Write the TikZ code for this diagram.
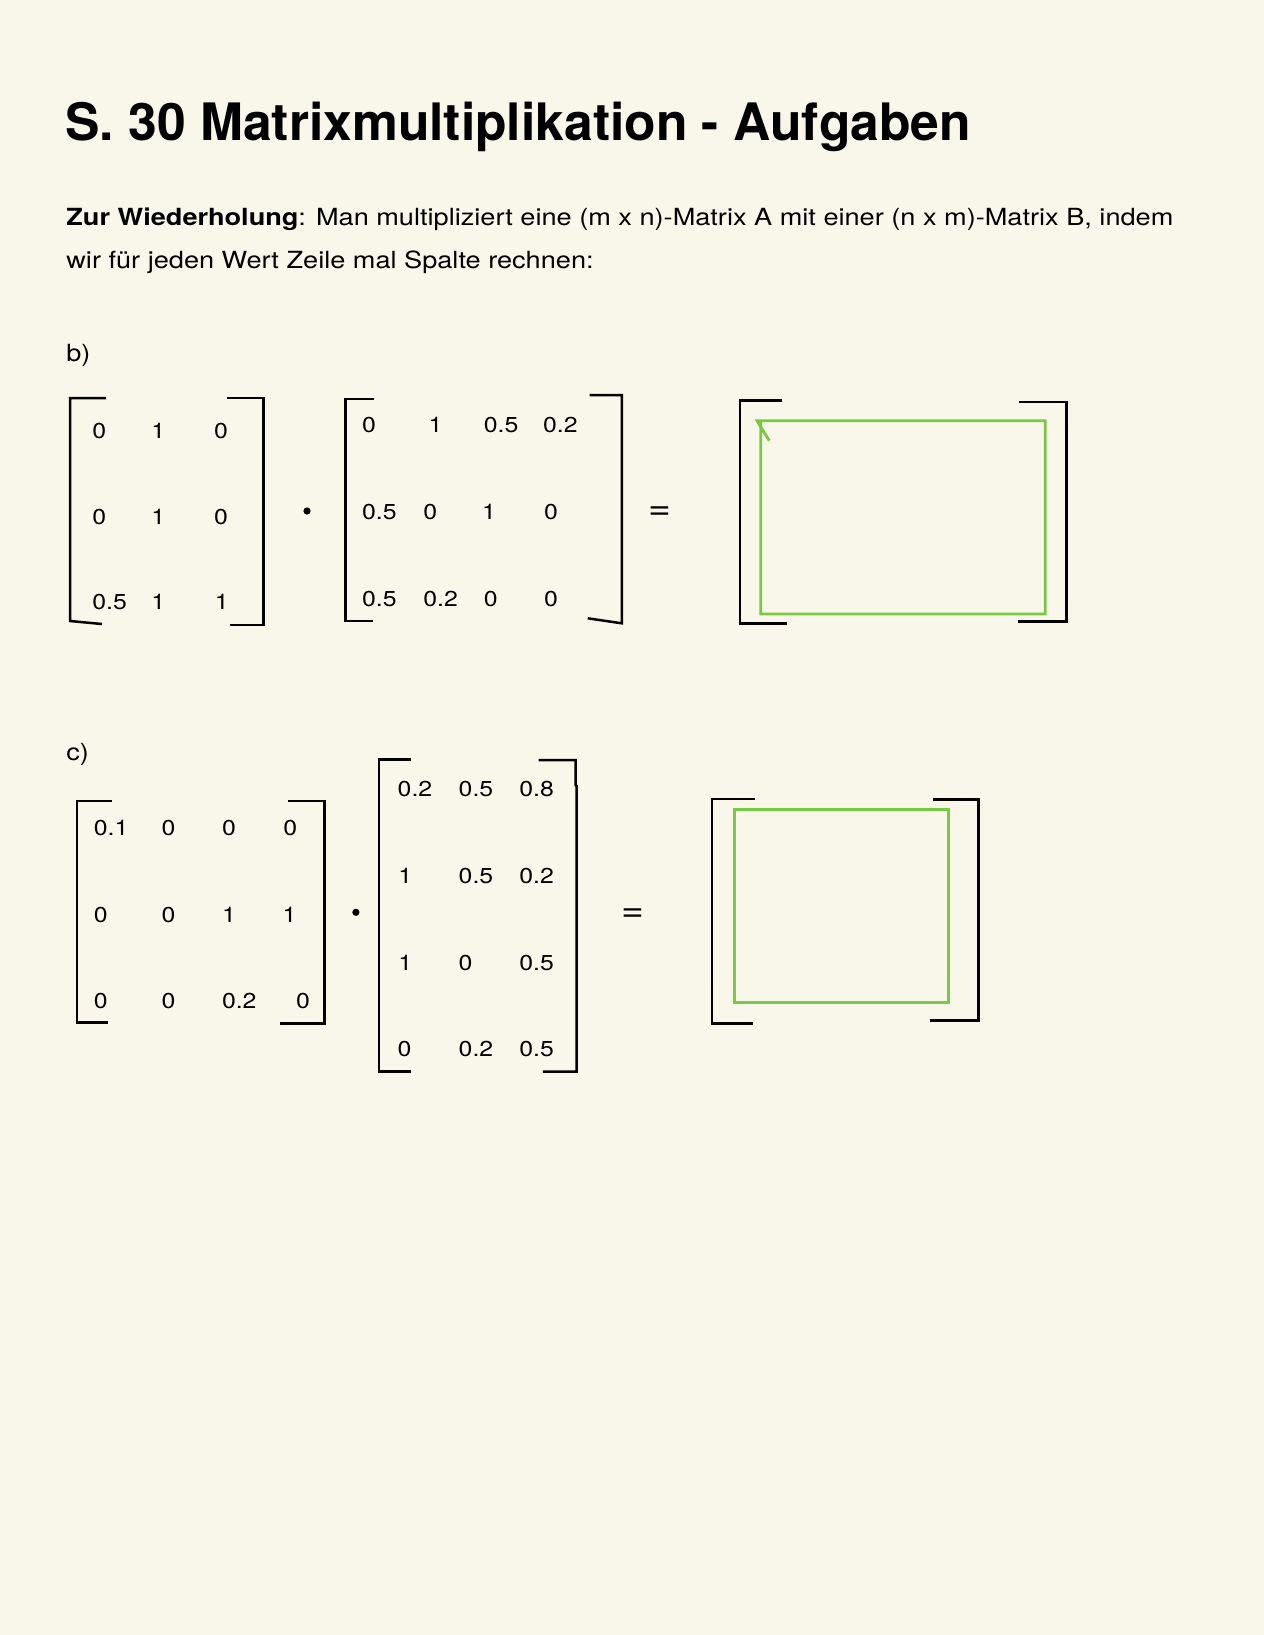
\documentclass[tikz,border=0pt]{standalone}
\usepackage{fontspec}
\setmainfont{TeX Gyre Heros}[FakeStretch=1.15]
\newfontfamily\titlefont{TeX Gyre Heros}
\usepackage{tikz}
\definecolor{paper}{RGB}{249,247,234}
\definecolor{lime}{RGB}{122,201,67}
\tikzset{
  bracket/.style={line width=1.25pt},
  result/.style={draw=lime, line width=1.4pt},
  entry/.style={anchor=west, inner sep=0pt, font=\fontsize{10.8}{13}\selectfont},
  txt/.style={anchor=base west, inner sep=0pt, font=\fontsize{11.8}{14}\selectfont},
  equal/.style={inner sep=0pt, font=\fontsize{17}{20}\selectfont},
  mult/.style={circle, fill, inner sep=0pt, minimum size=3.6pt}
}
\begin{document}
\begin{tikzpicture}[x=0.5pt,y=-0.5pt]
\fill[paper] (0,0) rectangle (1264,1635);
\useasboundingbox (0,0) rectangle (1264,1635);
% Titel und Text
\node[anchor=base west, inner sep=0pt, font=\titlefont\bfseries\fontsize{25.8}{30}\selectfont] (title) at (65,140) {S. 30 Matrixmultiplikation - Aufgaben};
\node[txt] (line1) at (66,225) {\textbf{Zur Wiederholung}: Man multipliziert eine (m x n)-Matrix A mit einer (n x m)-Matrix B, indem};
\node[txt] (line2) at (66,268) {wir für jeden Wert Zeile mal Spalte rechnen:};
\node[txt] (partb) at (66,361) {b)};
\node[txt] (partc) at (66,760) {c)};
% b) erste Matrix
\draw[bracket] (106,398) -- (70,398) -- (70,621) -- (102,624);
\draw[bracket] (227,398) -- (263.5,398) -- (263.5,625) -- (230,625);
\node[entry] (ab11) at (92,431) {0};
\node[entry] (ab12) at (151,431) {1};
\node[entry] (ab13) at (213.6,431) {0};
\node[entry] (ab21) at (92,516.7) {0};
\node[entry] (ab22) at (151,516.7) {1};
\node[entry] (ab23) at (213.6,516.7) {0};
\node[entry] (ab31) at (92,602.3) {0.5};
\node[entry] (ab32) at (151,602.3) {1};
\node[entry] (ab33) at (214.5,602.3) {1};
\node[mult] (dotb) at (307,511) {};
% b) zweite Matrix
\draw[bracket] (374,399) -- (345.4,399) -- (345.4,621) -- (372.6,621);
\draw[bracket] (589.6,395) -- (621.8,395) -- (621.8,623.3) -- (587.7,618.3);
\node[entry] (bb11) at (361.7,425) {0};
\node[entry] (bb12) at (428.3,425) {1};
\node[entry] (bb13) at (483.4,425) {0.5};
\node[entry] (bb14) at (542.7,425) {0.2};
\node[entry] (bb21) at (361.7,512.3) {0.5};
\node[entry] (bb22) at (423,512.3) {0};
\node[entry] (bb23) at (481.7,512.3) {1};
\node[entry] (bb24) at (543.8,512.3) {0};
\node[entry] (bb31) at (361.7,599.3) {0.5};
\node[entry] (bb32) at (423,599.3) {0.2};
\node[entry] (bb33) at (483.4,599.3) {0};
\node[entry] (bb34) at (543.8,599.3) {0};
\node[equal] (eqb) at (660,513) {=};
% b) Ergebnis
\draw[bracket] (782.3,400.7) -- (740,400.7) -- (740,623.7) -- (787.3,623.7);
\draw[bracket] (1019.3,402) -- (1066.7,402) -- (1066.7,621.3) -- (1017.7,621.3);
\draw[result] (769.3,440.7) -- (757,420.7) -- (1045.3,420.7) -- (1045.3,614) -- (760.7,614) -- (760.7,420.7);
% c) erste Matrix
\draw[bracket] (112,801) -- (77,801) -- (77,1022.7) -- (108,1022.7);
\draw[bracket] (287.8,801) -- (324.6,801) -- (324.6,1023.3) -- (279.7,1023.3);
\node[entry] (ac11) at (93.5,828.3) {0.1};
\node[entry] (ac12) at (161.2,828.3) {0};
\node[entry] (ac13) at (221.6,828.3) {0};
\node[entry] (ac14) at (283,828.3) {0};
\node[entry] (ac21) at (93.5,915) {0};
\node[entry] (ac22) at (161.2,915) {0};
\node[entry] (ac23) at (221.6,915) {1};
\node[entry] (ac24) at (282.3,915) {1};
\node[entry] (ac31) at (93.5,1000.7) {0};
\node[entry] (ac32) at (161.2,1000.7) {0};
\node[entry] (ac33) at (221.6,1000.7) {0.2};
\node[entry] (ac34) at (295.6,1000.7) {0};
\node[mult] (dotc) at (355.9,912.3) {};
% c) zweite Matrix
\draw[bracket] (411.3,759.3) -- (379,759.3) -- (379,1071.7) -- (411.3,1071.7);
\draw[bracket] (538.6,760) -- (575.5,760) -- (575.5,785) -- (576.5,786) -- (576.5,1071.7) -- (542.8,1071.7);
\node[entry] (bc11) at (397.3,789.3) {0.2};
\node[entry] (bc12) at (458.3,789.3) {0.5};
\node[entry] (bc13) at (519,789.3) {0.8};
\node[entry] (bc21) at (398,876) {1};
\node[entry] (bc22) at (458.3,876) {0.5};
\node[entry] (bc23) at (519,876) {0.2};
\node[entry] (bc31) at (398,962.7) {1};
\node[entry] (bc32) at (458.3,962.7) {0};
\node[entry] (bc33) at (519,962.7) {0.5};
\node[entry] (bc41) at (397.3,1049) {0};
\node[entry] (bc42) at (458.3,1049) {0.2};
\node[entry] (bc43) at (519,1049) {0.5};
\node[equal] (eqc) at (633,915) {=};
% c) Ergebnis
\draw[bracket] (755.3,799) -- (712,799) -- (712,1023.3) -- (752.7,1023.3);
\draw[bracket] (933.3,799.3) -- (978.7,799.3) -- (978.7,1020.7) -- (930,1020.7);
\draw[result] (734.7,809.3) rectangle (948.7,1002.3);
\end{tikzpicture}
\end{document}
